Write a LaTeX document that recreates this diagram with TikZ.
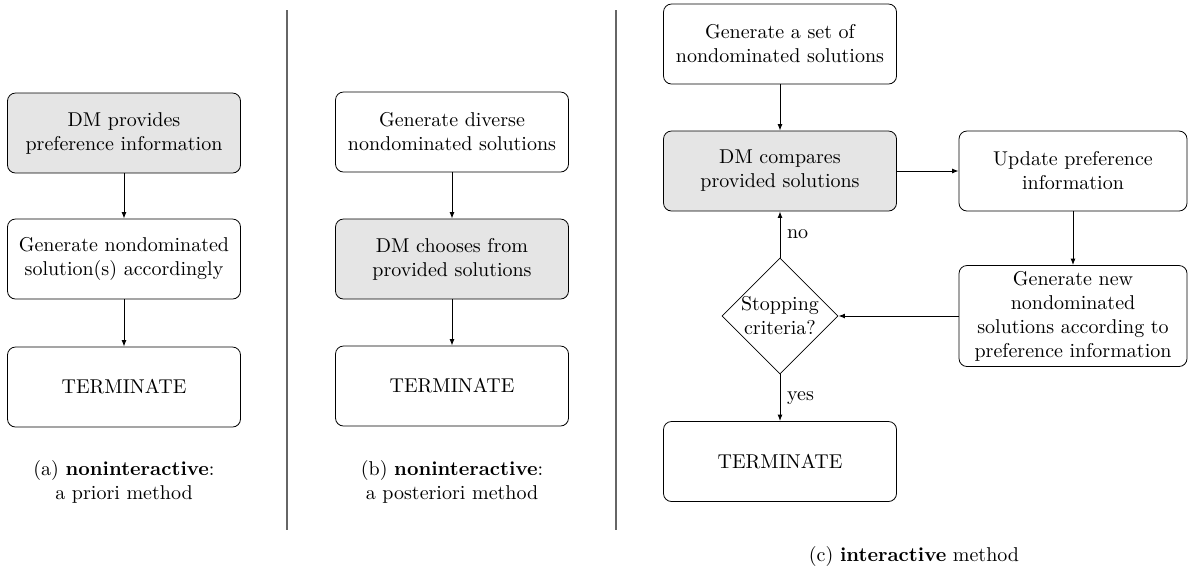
\documentclass[tikz,border=0pt]{standalone}
\usetikzlibrary{arrows.meta,shapes.geometric}
\begin{document}
\begin{tikzpicture}[x=0.5pt,y=-0.5pt,
  stepbox/.style={draw, rounded corners=4pt, align=center, minimum width=116.5pt,
    minimum height=40pt, inner sep=2pt, font=\normalsize},
  dmbox/.style={stepbox, fill=black!10},
  decision/.style={draw, diamond, align=center, aspect=1, minimum width=58pt,
    minimum height=58pt, inner sep=0pt},
  flow/.style={-{Latex[length=3.2pt,width=2.4pt]}, line width=0.45pt},
  divider/.style={draw=black!60, line width=0.8pt},
  caption/.style={align=center}]
\useasboundingbox (0,0) rectangle (1188,570);

% panel separators
\coordinate (s1t) at (287,10);  \coordinate (s1b) at (287,530);
\coordinate (s2t) at (616,10);  \coordinate (s2b) at (616,530);
\draw[divider] (s1t) -- (s1b);
\draw[divider] (s2t) -- (s2b);

% (a) a priori
\node[dmbox]   (a1) at (124,133) {DM provides\\preference information};
\node[stepbox] (a2) at (124,259) {Generate nondominated\\solution(s) accordingly};
\node[stepbox] (a3) at (124,387) {TERMINATE};
\draw[flow] (a1) -- (a2);
\draw[flow] (a2) -- (a3);
\node[caption] (capa) at (124,482) {(a) \textbf{noninteractive}:\\a priori method};

% (b) a posteriori
\node[stepbox] (b1) at (452,132) {Generate diverse\\nondominated solutions};
\node[dmbox]   (b2) at (452,259) {DM chooses from\\provided solutions};
\node[stepbox] (b3) at (452,386) {TERMINATE};
\draw[flow] (b1) -- (b2);
\draw[flow] (b2) -- (b3);
\node[caption] (capb) at (452,482) {(b) \textbf{noninteractive}:\\a posteriori method};

% (c) interactive
\node[stepbox] (c1) at (780,44)  {Generate a set of\\nondominated solutions};
\node[dmbox]   (c2) at (780,171) {DM compares\\provided solutions};
\node[stepbox, minimum width=114pt] (c3) at (1073,171) {Update preference\\information};
\node[stepbox, minimum width=114pt, minimum height=50.5pt] (c4) at (1073,316)
  {Generate new\\nondominated\\solutions according to\\preference information};
\node[decision] (c5) at (780,316) {Stopping\\criteria?};
\node[stepbox] (c6) at (780,461.5) {TERMINATE};
\draw[flow] (c1) -- (c2);
\draw[flow] (c2) -- (c3);
\draw[flow] (c3) -- (c4);
\draw[flow] (c4) -- (c5);
\draw[flow] (c5) -- node[right] {no} (c2);
\draw[flow] (c5) -- node[right] {yes} (c6);
\node[caption] (capc) at (914,556) {(c) \textbf{interactive} method};
\end{tikzpicture}
\end{document}
